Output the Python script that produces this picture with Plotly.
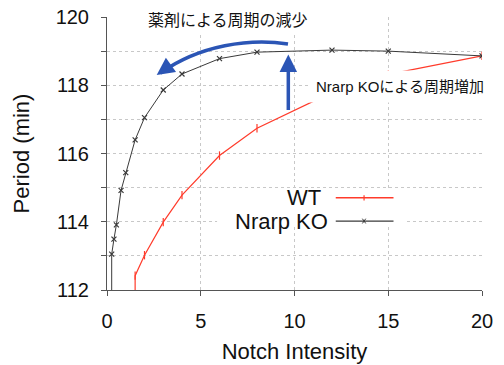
import plotly.graph_objects as go

# ---- data ----
ko_x = [0.25, 0.25, 0.37, 0.5, 0.75, 1.0, 1.5, 2, 3, 4, 6, 8, 12, 15, 20]
ko_y = [111.5, 113.05, 113.49, 113.91, 114.92, 115.44, 116.40, 117.05, 117.86, 118.33, 118.78, 118.97, 119.03, 119.00, 118.86]
wt_x = [1.5, 1.5, 2, 3, 4, 6, 8, 12, 15, 20]
wt_y = [111.5, 112.42, 113.02, 113.99, 114.78, 115.94, 116.74, 117.79, 118.32, 118.86]
x_ticks = [0, 5, 10, 15, 20]
y_ticks = [112, 113, 114, 115, 116, 117, 118, 119, 120]
y_ticktext = ["112", "", "114", "", "116", "", "118", "", "120"]

RED = "#ff3b2b"
DARK = "#3a3a3a"
BLUE = "#2b55b5"
FONT = "Liberation Sans, Arial, Noto Sans CJK JP, sans-serif"
CJK = "Liberation Sans, Noto Sans CJK JP, sans-serif"

fig = go.Figure()
fig.add_trace(go.Scatter(x=wt_x, y=wt_y, mode="lines+markers", name="WT",
                         line=dict(color=RED, width=1.2),
                         marker=dict(symbol="line-ns-open", size=6, color=RED,
                                     line=dict(color=RED, width=1.2)),
                         showlegend=False))
fig.add_trace(go.Scatter(x=ko_x, y=ko_y, mode="lines+markers", name="Nrarp KO",
                         line=dict(color=DARK, width=1),
                         marker=dict(symbol="x-thin-open", size=5, color=DARK,
                                     line=dict(color=DARK, width=1.2)),
                         showlegend=False))

shapes = []
# legend background box
shapes.append(dict(type="rect", xref="x", yref="y", x0=5.87, x1=15.9, y0=113.9, y1=114.97,
                   fillcolor="white", line=dict(width=0), layer="between"))
# legend keys
shapes.append(dict(type="line", xref="x", yref="y", x0=12.2, x1=15.28, y0=114.70, y1=114.70,
                   line=dict(color=RED, width=1.5)))
shapes.append(dict(type="line", xref="x", yref="y", x0=13.71, x1=13.71, y0=114.62, y1=114.78,
                   line=dict(color=RED, width=1.2)))
shapes.append(dict(type="line", xref="x", yref="y", x0=12.2, x1=15.28, y0=114.02, y1=114.02,
                   line=dict(color=DARK, width=1.2)))
shapes.append(dict(type="line", xref="x", yref="y", x0=13.62, x1=13.80, y0=113.95, y1=114.09,
                   line=dict(color=DARK, width=1)))
shapes.append(dict(type="line", xref="x", yref="y", x0=13.62, x1=13.80, y0=114.09, y1=113.95,
                   line=dict(color=DARK, width=1)))
# curved blue arrow
shapes.append(dict(type="path", xref="x", yref="y",
                   path="M 9.653,119.209 C 7.627,119.385 4.96,119.18 2.85,118.36",
                   line=dict(color=BLUE, width=3.5)))

annotations = [
    dict(x=6.45, y=119.91, xref="x", yref="y", text="薬剤による周期の減少", showarrow=False,
         font=dict(family=CJK, size=16, color="#111"), bgcolor="white", borderpad=5),
    dict(x=15.64, y=117.96, xref="x", yref="y", text="Nrarp KOによる周期増加", showarrow=False,
         font=dict(family=CJK, size=15, color="#111"), bgcolor="white", borderpad=7),
    dict(x=11.52, y=114.70, xref="x", yref="y", text="WT", showarrow=False, xanchor="right",
         font=dict(family=FONT, size=22, color="#111")),
    dict(x=11.89, y=114.02, xref="x", yref="y", text="Nrarp KO", showarrow=False, xanchor="right",
         font=dict(family=FONT, size=22, color="#111")),
    # vertical arrow
    dict(x=9.67, y=118.90, xref="x", yref="y", text="", showarrow=True, ax=0, ay=57,
         arrowcolor=BLUE, arrowwidth=3.5, arrowhead=2, arrowsize=1, standoff=0),
    # head of curved arrow
    dict(x=2.651, y=118.30, xref="x", yref="y", text="", showarrow=True, ax=14, ay=-10,
         arrowcolor=BLUE, arrowwidth=3.5, arrowhead=2, arrowsize=1, standoff=0),
]

# page body has an 8px margin, so the figure is sized/offset to land on the 504x365 frame
fig.update_layout(
    width=496, height=357,
    margin=dict(l=99, r=22, t=9, b=75),
    paper_bgcolor="white", plot_bgcolor="white",
    font=dict(family=FONT, color="#111"),
    shapes=shapes, annotations=annotations,
)
fig.update_xaxes(range=[0, 20], tickvals=x_ticks, ticks="outside", ticklen=5, tickcolor="#555",
                 showline=True, linecolor="#555", linewidth=1, automargin=False,
                 showgrid=True, gridcolor="#c8c8c8", griddash="dot", gridwidth=1,
                 zeroline=False, tickfont=dict(size=20), ticklabelstandoff=8,
                 ticklabeloverflow="allow",
                 title=dict(text="Notch Intensity", font=dict(size=22), standoff=12))
fig.update_yaxes(range=[112, 120], tickvals=y_ticks, ticktext=y_ticktext, ticks="outside", ticklen=5,
                 tickcolor="#555", showline=True, linecolor="#555", linewidth=1, automargin=False,
                 showgrid=True, gridcolor="#c8c8c8", griddash="dot", gridwidth=1,
                 zeroline=False, tickfont=dict(size=20), ticklabelstandoff=8,
                 ticklabeloverflow="allow",
                 title=dict(text="Period (min)", font=dict(size=22), standoff=19))

fig.write_html("out.html")
